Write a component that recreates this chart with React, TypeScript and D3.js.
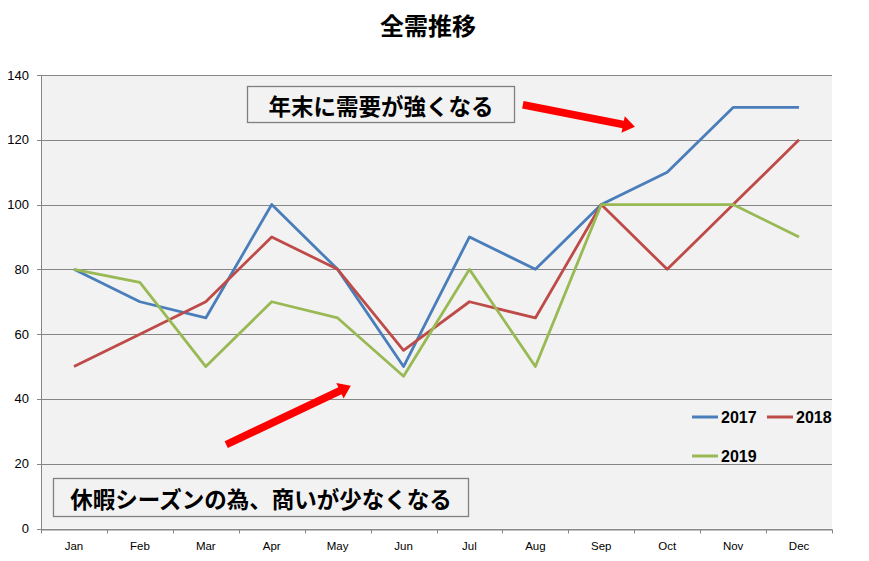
import React, { useRef, useEffect } from "react";
import * as d3 from "d3";

const months = ["Jan", "Feb", "Mar", "Apr", "May", "Jun", "Jul", "Aug", "Sep", "Oct", "Nov", "Dec"];
const years = ["2017", "2018", "2019"];
const sales2017 = [80, 70, 65, 100, 80, 50, 90, 80, 100, 110, 130, 130];
const sales2018 = [50, 60, 70, 90, 80, 55, 70, 65, 100, 80, 100, 120];
const sales2019 = [80, 76, 50, 70, 65, 47, 80, 50, 100, 100, 100, 90];
const yTicks = [0, 20, 40, 60, 80, 100, 120, 140];
const colors = ["#4a7ebb", "#be4b48", "#98b954"];

// annotations in (month index, value) units
const notes = [
  { text: "年末に需要が強くなる", x0: 2.63, x1: 6.68, v0: 136.7, v1: 125.6 },
  { text: "休暇シーズンの為、商いが少なくなる", x0: -0.32, x1: 5.98, v0: 15.6, v1: 3.9 },
];
const arrows = [
  { from: [6.81, 130.8], to: [8.51, 124.0] },
  { from: [2.31, 25.9], to: [4.2, 44.1] },
];

const App = () => {
  const chartRef = useRef(null);

  useEffect(() => {
    document.body.style.margin = "0";
    const container = d3.select(chartRef.current);
    container.select("svg").remove();

    const width = 869;
    const height = 561;
    const left = 41;
    const right = 832;
    const top = 75;
    const bottom = 528.5;
    const axisColor = "#868686";
    const jp = "'Noto Sans CJK JP', sans-serif";
    const latin = "'Liberation Sans', Arial, sans-serif";

    const svg = container
      .append("svg")
      .attr("width", width)
      .attr("height", height)
      .style("display", "block");

    const xScale = d3.scaleBand().domain(months).range([left, right]);
    const yScale = d3.scaleLinear().domain([0, 140]).range([bottom, top]);
    const bw = xScale.bandwidth();
    const xi = d3
      .scaleLinear()
      .domain([0, 11])
      .range([xScale("Jan")! + bw / 2, xScale("Dec")! + bw / 2]);

    // title
    svg
      .append("text")
      .attr("x", 428)
      .attr("y", 24)
      .attr("text-anchor", "middle")
      .attr("dominant-baseline", "central")
      .style("font-family", jp)
      .style("font-weight", "bold")
      .style("font-size", "24px")
      .text("全需推移");

    // plot background
    svg
      .append("rect")
      .attr("x", left)
      .attr("y", top)
      .attr("width", right - left)
      .attr("height", bottom - top)
      .attr("fill", "#f2f2f2");

    // gridlines + y ticks
    const yg = svg.append("g");
    yg.selectAll("line")
      .data(yTicks)
      .enter()
      .append("line")
      .attr("x1", left - 4)
      .attr("x2", right)
      .attr("y1", (d) => Math.round(yScale(d)) + 0.5)
      .attr("y2", (d) => Math.round(yScale(d)) + 0.5)
      .attr("stroke", axisColor);
    yg.selectAll("text")
      .data(yTicks)
      .enter()
      .append("text")
      .attr("x", 29)
      .attr("y", (d) => yScale(d))
      .attr("dy", "0.35em")
      .attr("text-anchor", "end")
      .style("font-family", latin)
      .style("font-size", "13px")
      .text((d) => d);

    // axes
    svg
      .append("line")
      .attr("x1", left + 0.5)
      .attr("x2", left + 0.5)
      .attr("y1", top)
      .attr("y2", bottom + 4)
      .attr("stroke", axisColor);
    const xAxis = d3.axisBottom(xScale).tickSize(0).tickSizeOuter(0);
    const xg = svg
      .append("g")
      .attr("transform", `translate(0, ${Math.round(bottom) + 0.5})`)
      .call(xAxis);
    xg.select(".domain").attr("stroke", axisColor);
    xg.selectAll("text")
      .attr("y", 12)
      .attr("fill", "#000")
      .style("font-family", latin)
      .style("font-size", "11.5px");
    xg.selectAll(".sep")
      .data([...months.map((m) => xScale(m)!), right])
      .enter()
      .append("line")
      .attr("x1", (d) => Math.round(d) + 0.5)
      .attr("x2", (d) => Math.round(d) + 0.5)
      .attr("y1", 0)
      .attr("y2", 4)
      .attr("stroke", axisColor);

    // lines
    const series = [sales2017, sales2018, sales2019];
    const line = d3
      .line<number>()
      .x((_, i) => xScale(months[i])! + bw / 2)
      .y((d) => yScale(d));
    svg
      .selectAll(".series")
      .data(series)
      .enter()
      .append("path")
      .attr("d", (d) => line(d))
      .attr("fill", "none")
      .attr("stroke", (_, i) => colors[i])
      .attr("stroke-width", 2.8)
      .attr("stroke-linejoin", "round");

    // legend
    const legendPos = [
      [692, 417],
      [767, 417],
      [692, 456],
    ];
    years.forEach((yr, i) => {
      const [lx, ly] = legendPos[i];
      svg
        .append("line")
        .attr("x1", lx)
        .attr("x2", lx + 26)
        .attr("y1", ly)
        .attr("y2", ly)
        .attr("stroke", colors[i])
        .attr("stroke-width", 3);
      svg
        .append("text")
        .attr("x", lx + 29)
        .attr("y", ly + 6)
        .style("font-family", latin)
        .style("font-weight", "bold")
        .style("font-size", "16px")
        .text(yr);
    });

    // annotation boxes
    notes.forEach((n) => {
      const x0 = Math.round(xi(n.x0)) + 0.5;
      const x1 = Math.round(xi(n.x1)) + 0.5;
      const y0 = Math.round(yScale(n.v0)) + 0.5;
      const y1 = Math.round(yScale(n.v1)) + 0.5;
      svg
        .append("rect")
        .attr("x", x0)
        .attr("y", y0)
        .attr("width", x1 - x0)
        .attr("height", y1 - y0)
        .attr("fill", "#f2f2f2")
        .attr("stroke", "#7f7f7f")
        .attr("stroke-width", 1.3);
      svg
        .append("text")
        .attr("x", (x0 + x1) / 2)
        .attr("y", (y0 + y1) / 2)
        .attr("text-anchor", "middle")
        .attr("dominant-baseline", "central")
        .style("font-family", jp)
        .style("font-weight", "bold")
        .style("font-size", "22.5px")
        .text(n.text);
    });

    // arrows
    arrows.forEach((a) => {
      const sx = xi(a.from[0]);
      const sy = yScale(a.from[1]);
      const ex = xi(a.to[0]);
      const ey = yScale(a.to[1]);
      const len = Math.hypot(ex - sx, ey - sy);
      const ang = (Math.atan2(ey - sy, ex - sx) * 180) / Math.PI;
      const hw = 3.8;
      const hl = 12;
      const hh = 8.5;
      const pts = [
        [0, -hw],
        [len - hl, -hw],
        [len - hl, -hh],
        [len, 0],
        [len - hl, hh],
        [len - hl, hw],
        [0, hw],
      ];
      svg
        .append("polygon")
        .attr("points", pts.map((p) => p.join(",")).join(" "))
        .attr("fill", "#ff0000")
        .attr("transform", `translate(${sx},${sy}) rotate(${ang})`);
    });
  }, []);

  return <div ref={chartRef} />;
};

export default App;
